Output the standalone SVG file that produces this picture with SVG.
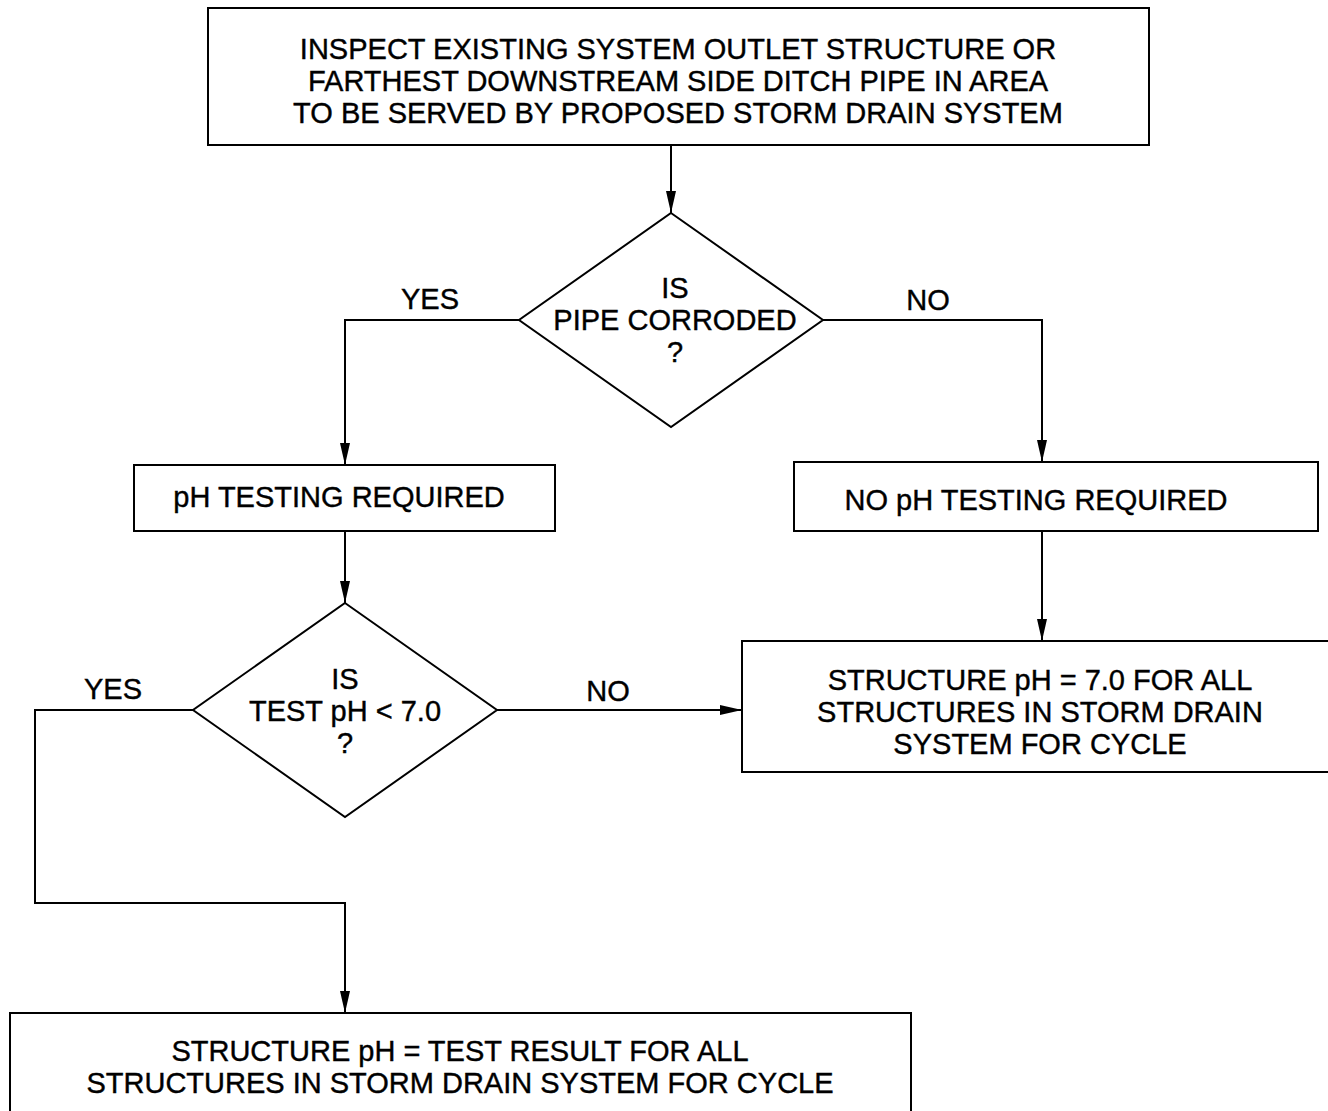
<svg xmlns="http://www.w3.org/2000/svg" width="1328" height="1111" viewBox="0 0 1328 1111">
<style>
.box{fill:#fff;stroke:#000;stroke-width:2}
.t{font-family:"Liberation Sans",Arial,sans-serif;font-size:29px;fill:#000;stroke:#000;stroke-width:0.4;text-anchor:middle}
.c{fill:none;stroke:#000;stroke-width:2}
</style>
<defs>
<marker id="ah" markerUnits="userSpaceOnUse" markerWidth="24" markerHeight="12" refX="22" refY="5" orient="auto">
<path d="M0,0 L22,5 L0,10 Z" fill="#000"/>
</marker>
</defs>
<rect width="1328" height="1111" fill="#fff"/>
<g id="connectors">
<path class="c" d="M671,145 V213" marker-end="url(#ah)"/>
<path class="c" d="M519,320 H345 V465" marker-end="url(#ah)"/>
<path class="c" d="M823,320 H1042 V462" marker-end="url(#ah)"/>
<path class="c" d="M345,531 V603" marker-end="url(#ah)"/>
<path class="c" d="M1042,531 V641" marker-end="url(#ah)"/>
<path class="c" d="M497,710 H742" marker-end="url(#ah)"/>
<path class="c" d="M193,710 H35 V903 H345 V1013" marker-end="url(#ah)"/>
<text class="t" x="430" y="309">YES</text>
<text class="t" x="928" y="310">NO</text>
<text class="t" x="113" y="699">YES</text>
<text class="t" x="608" y="701">NO</text>
</g>
<g id="inspect">
<rect class="box" x="208" y="8" width="941" height="137"/>
<text class="t" x="678" y="59">INSPECT EXISTING SYSTEM OUTLET STRUCTURE OR</text>
<text class="t" x="678" y="91">FARTHEST DOWNSTREAM SIDE DITCH PIPE IN AREA</text>
<text class="t" x="678" y="123">TO BE SERVED BY PROPOSED STORM DRAIN SYSTEM</text>
</g>
<g id="corroded">
<polygon class="box" points="671,213 823,320 671,427 519,320"/>
<text class="t" x="675" y="298">IS</text>
<text class="t" x="675" y="330">PIPE CORRODED</text>
<text class="t" x="675" y="362">?</text>
</g>
<g id="testing">
<rect class="box" x="134" y="465" width="421" height="66"/>
<text class="t" x="339" y="507">pH TESTING REQUIRED</text>
</g>
<g id="notesting">
<rect class="box" x="794" y="462" width="524" height="69"/>
<text class="t" x="1036" y="510">NO pH TESTING REQUIRED</text>
</g>
<g id="testph">
<polygon class="box" points="345,603 497,710 345,817 193,710"/>
<text class="t" x="345" y="689">IS</text>
<text class="t" x="345" y="721">TEST pH &lt; 7.0</text>
<text class="t" x="345" y="753">?</text>
</g>
<g id="ph7">
<rect class="box" x="742" y="641" width="600" height="131"/>
<text class="t" x="1040" y="690">STRUCTURE pH = 7.0 FOR ALL</text>
<text class="t" x="1040" y="722">STRUCTURES IN STORM DRAIN</text>
<text class="t" x="1040" y="754">SYSTEM FOR CYCLE</text>
</g>
<g id="result">
<rect class="box" x="10" y="1013" width="901" height="120"/>
<text class="t" x="460" y="1061">STRUCTURE pH = TEST RESULT FOR ALL</text>
<text class="t" x="460" y="1093">STRUCTURES IN STORM DRAIN SYSTEM FOR CYCLE</text>
</g>
</svg>
